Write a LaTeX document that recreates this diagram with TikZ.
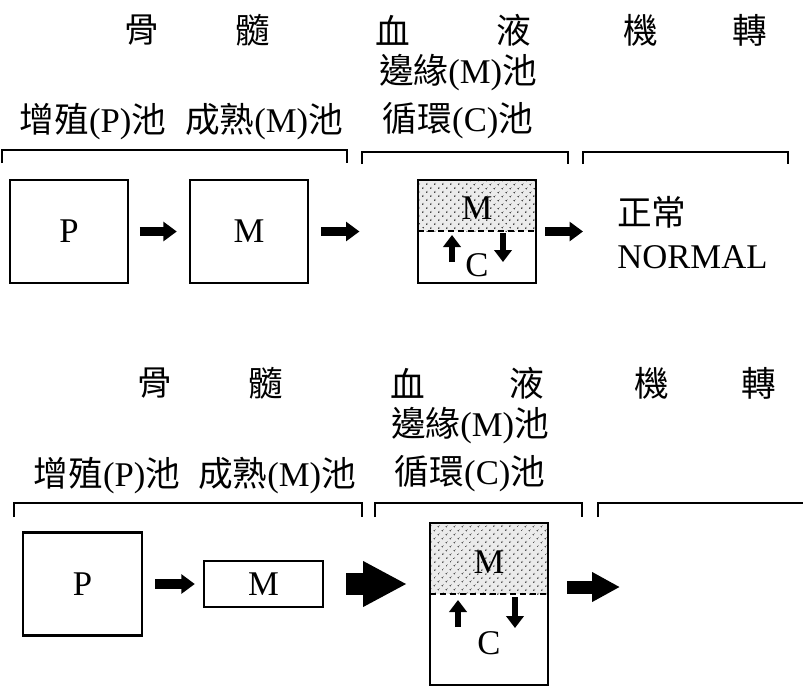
\documentclass[tikz,border=0pt]{standalone}
\usepackage{fontspec}
\setmainfont{Liberation Serif}
\newfontfamily\zhfont{Noto Sans CJK TC}
\usetikzlibrary{arrows.meta,patterns.meta}

\begin{document}
\begin{tikzpicture}[x=0.75pt,y=0.75pt,yscale=-1,xscale=1,
  every node/.style={inner sep=0.75pt,font=\fontsize{26}{30}\selectfont},
  box/.style={draw,line width=1.8pt,inner sep=0pt},
  bracket/.style={line width=2pt},
  dotfill/.style={fill=black!8,postaction={pattern={Dots[distance=4pt,angle=45,radius=0.7pt]},pattern color=black!80}},
  dashline/.style={line width=1.8pt,dash pattern=on 4.5pt off 3pt},
  smallarrow/.style={line width=7pt,-{Triangle[length=10pt,width=14pt]}},
  midarrow/.style={line width=9.75pt,-{Triangle[length=21pt,width=21pt]}},
  bigarrow/.style={line width=16.5pt,-{Triangle[length=33pt,width=32pt]}},
  innerarrow/.style={line width=5pt,-{Triangle[length=9pt,width=13pt]}}]
%set diagram left start at 0, and has height of 687
\path[use as bounding box] (0,0) rectangle (803,687);

%%% top: normal

% Text Node
\node (topBone1) at (142,30) {\zhfont 骨};
\node (topBone2) at (253,30) {\zhfont 髓};
\node (topBlood1) at (393,30) {\zhfont 血};
\node (topBlood2) at (514,30) {\zhfont 液};
\node (topFate1) at (641,30) {\zhfont 機};
\node (topFate2) at (750,30) {\zhfont 轉};
% Text Node
\node (topMarg) at (458,73) {{\zhfont 邊緣}(M){\zhfont 池}};
\node (topCirc) at (458,121) {{\zhfont 循環}(C){\zhfont 池}};
\node (topProl) at (93,122) {{\zhfont 增殖}(P){\zhfont 池}};
\node (topMat) at (264,122) {{\zhfont 成熟}(M){\zhfont 池}};

%Brackets
\draw[bracket] (2,163) -- (2,150) -- (347,150) -- (347,163);
\draw[bracket] (362,164) -- (362,152) -- (568,152) -- (568,164);
\draw[bracket] (583,164) -- (583,152) -- (788,152) -- (788,164);

%Shape: Rectangle
\node[box,minimum width=88.5pt,minimum height=77.25pt] (topP) at (69,231.5) {P};
\node[box,minimum width=88.5pt,minimum height=77.25pt] (topM) at (249,231.5) {M};
%Shape: Rectangle, dotted part
\fill[dotfill] (418,180) rectangle (536,231);
\draw[dashline] (418,231) -- (536,231);
\node[box,minimum width=88.5pt,minimum height=77.25pt] (topMC) at (477,231.5) {};
\node (topMCm) at (477,208) {M};
\node (topMCc) at (477,265) {C};
\draw[innerarrow] (452,262) -- (452,235);
\draw[innerarrow] (503,233) -- (503,262);

% Text Node
\node[anchor=west] (topNormZh) at (616,212) {\zhfont 正常};
\node[anchor=west] (topNorm) at (616,257) {NORMAL};

%Arrows
\coordinate (topOut) at (583,231.5);
\draw[smallarrow] ([xshift=8pt]topP.east) -- ([xshift=-9pt]topM.west);
\draw[smallarrow] ([xshift=9pt]topM.east) -- ([xshift=-43pt]topMC.west);
\draw[smallarrow] ([xshift=6pt]topMC.east) -- (topOut);

%%% bottom

% Text Node
\node (botBone1) at (155,383) {\zhfont 骨};
\node (botBone2) at (266,383) {\zhfont 髓};
\node (botBlood1) at (408,383) {\zhfont 血};
\node (botBlood2) at (527,383) {\zhfont 液};
\node (botFate1) at (652,383) {\zhfont 機};
\node (botFate2) at (759,383) {\zhfont 轉};
% Text Node
\node (botMarg) at (470,426) {{\zhfont 邊緣}(M){\zhfont 池}};
\node (botCirc) at (470,474) {{\zhfont 循環}(C){\zhfont 池}};
\node (botProl) at (107,476) {{\zhfont 增殖}(P){\zhfont 池}};
\node (botMat) at (277,476) {{\zhfont 成熟}(M){\zhfont 池}};

%Brackets
\draw[bracket] (14,517) -- (14,503) -- (362,503) -- (362,517);
\draw[bracket] (375,517) -- (375,503) -- (582,503) -- (582,517);
\draw[bracket] (598,517) -- (598,503) -- (803,503);

%Shape: Rectangle
\node[box,minimum width=89.25pt,minimum height=77.25pt] (botP) at (82.5,584) {P};
\node[box,minimum width=89.25pt,minimum height=34.5pt] (botM) at (263.5,584) {M};
%Shape: Rectangle, dotted part
\fill[dotfill] (430,523) rectangle (548,594);
\draw[dashline] (430,594) -- (548,594);
\node[box,minimum width=88.5pt,minimum height=121.5pt] (botMC) at (489,604) {};
\node (botMCm) at (489,562) {M};
\node (botMCc) at (489,643) {C};
\draw[innerarrow] (458,627) -- (458,600);
\draw[innerarrow] (515,597) -- (515,628);

%Arrows
\coordinate (bigTip) at (407,584);
\coordinate (botOut) at (620,587);
\draw[smallarrow] ([xshift=9pt]botP.east) -- ([xshift=-6pt]botM.west);
\draw[bigarrow] ([xshift=16.5pt]botM.east) -- (bigTip);
\draw[midarrow] ([xshift=13.5pt,yshift=-12.75pt]botMC.east) -- (botOut);

\end{tikzpicture}
\end{document}
